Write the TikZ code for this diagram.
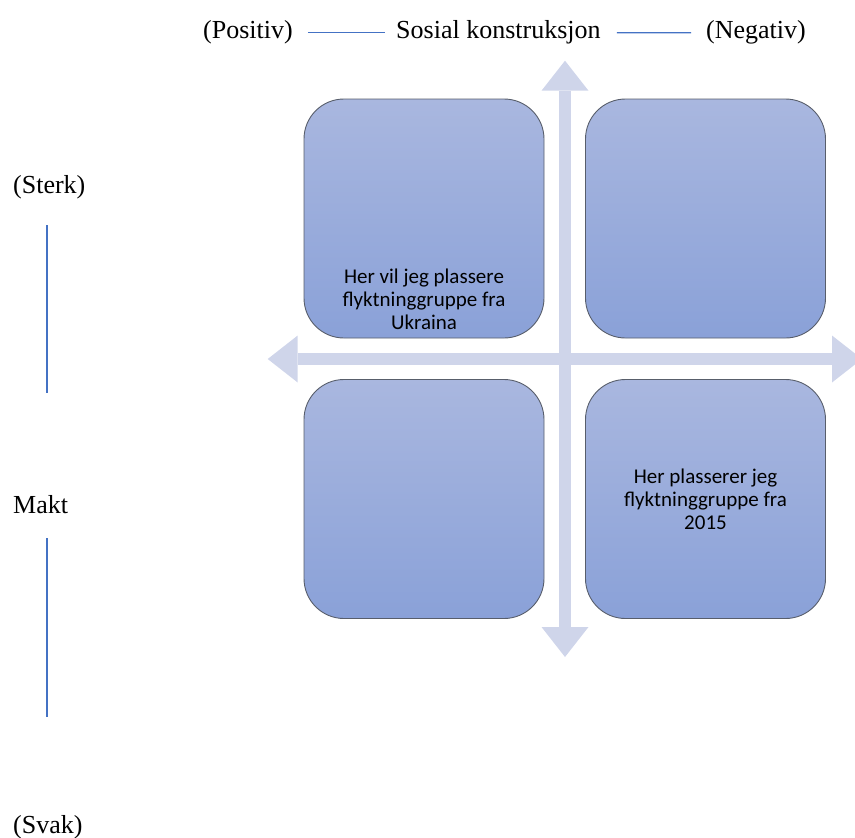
\documentclass[tikz,border=0pt]{standalone}
\usepackage{fontspec}
\setmainfont{Liberation Serif}
\newfontfamily\boxfont{Carlito}
\usetikzlibrary{arrows.meta}
\definecolor{axisfill}{HTML}{CFD5EA}
\definecolor{boxtop}{HTML}{A9B7DF}
\definecolor{boxbottom}{HTML}{8AA1D8}
\definecolor{boxedge}{HTML}{585E6B}
\definecolor{rulerblue}{HTML}{4472C4}

\begin{document}
\begin{tikzpicture}[x=1pt,y=-1pt,
  quadrant/.style={draw=boxedge, line width=0.9pt, rounded corners=40pt,
    top color=boxtop, bottom color=boxbottom,
    minimum width=240pt, minimum height=239pt, inner sep=0pt},
  quadtext/.style={font=\boxfont\fontsize{21}{23}\selectfont, align=center,
    text=black, inner sep=0pt},
  axisarrow/.style={draw=axisfill, line width=12pt,
    {Triangle[width=47pt,length=30pt,line width=0pt,fill=axisfill]}-{Triangle[width=47pt,length=30pt,line width=0pt,fill=axisfill]}},
  scaletext/.style={font=\fontsize{26}{30}\selectfont, inner sep=0pt, anchor=base west},
  ruler/.style={draw=rulerblue, line width=1.2pt}
]
\useasboundingbox (0,0) rectangle (855,838);
\clip (0,0) rectangle (855,838);

% crossing axes behind the four quadrants
\coordinate (axl) at (267.7,359);
\coordinate (axr) at (862,359);
\coordinate (axt) at (565,60.7);
\coordinate (axb) at (565,657);
\draw[axisarrow] (axl) -- (axr);
\draw[axisarrow] (axt) -- (axb);

% quadrants
\node[quadrant] (q1) at (424,218.5) {};
\node[quadrant] (q2) at (705.5,218.5) {};
\node[quadrant] (q3) at (424,499) {};
\node[quadrant] (q4) at (705.5,499) {};

\node[quadtext] (t1) at (424,299) {Her vil jeg plassere\\flyktninggruppe fra\\Ukraina};
\node[quadtext] (t4) at (705.5,499.5) {Her plasserer jeg\\flyktninggruppe fra\\2015};

% horizontal scale: social construction
\node[scaletext] (pos) at (203,38) {(Positiv)};
\node[scaletext] (soc) at (396,38) {Sosial konstruksjon};
\node[scaletext] (neg) at (706,38) {(Negativ)};
\draw[ruler] ([xshift=15pt,yshift=-1pt]pos.east) -- ([xshift=-11pt,yshift=-1pt]soc.west);
\draw[ruler] ([xshift=16pt,yshift=-1pt]soc.east) -- ([xshift=-15pt,yshift=-1pt]neg.west);

% vertical scale: power
\node[scaletext] (sterk) at (13,193) {(Sterk)};
\node[scaletext] (makt) at (13,513) {Makt};
\node[scaletext] (svak) at (13,833) {(Svak)};
\coordinate (r1a) at (47,225);
\coordinate (r1b) at (47,393);
\coordinate (r2a) at (47,538);
\coordinate (r2b) at (47,717);
\draw[ruler] (r1a) -- (r1b);
\draw[ruler] (r2a) -- (r2b);
\end{tikzpicture}
\end{document}
